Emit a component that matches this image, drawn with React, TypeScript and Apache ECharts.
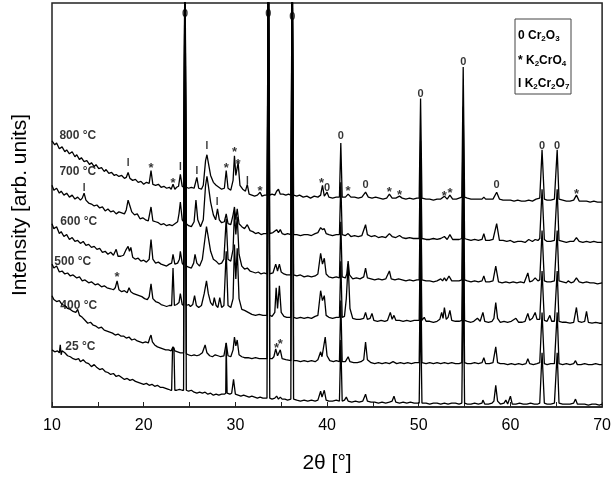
import React, { useEffect, useRef } from "react";
import * as echarts from "echarts";

const FONT = "'Liberation Sans', Arial, sans-serif";

// 2θ [°], intensity [arb. units] — stacked patterns
const c800: [number, number][] = [
  [10.0, 270], [10.3, 266], [10.5, 268], [10.8, 262], [11.1, 264], [11.4, 259], [11.6, 261], [11.9, 257], [12.2, 259], [12.5, 254],
  [12.7, 256], [13.0, 251], [13.2, 253], [13.5, 249], [13.8, 250], [14.1, 246], [14.3, 248], [14.6, 244], [14.8, 246], [15.1, 242],
  [15.4, 243], [15.7, 239], [15.9, 241], [16.2, 237], [16.5, 238], [16.8, 235], [17.0, 236], [17.3, 234], [17.6, 235], [17.9, 232],
  [18.1, 233], [18.3, 238], [18.5, 232], [18.8, 230], [19.1, 231], [19.4, 228], [19.7, 229], [20.0, 226], [20.3, 228], [20.6, 227],
  [20.8, 240], [21.0, 226], [21.3, 225], [21.6, 226], [21.9, 223], [22.2, 224], [22.5, 222], [22.8, 223], [23.0, 221], [23.2, 226],
  [23.4, 221], [23.6, 223], [23.8, 224], [24.0, 236], [24.2, 224], [24.35, 223], [24.5, 463], [24.65, 223], [24.9, 222], [25.2, 223],
  [25.5, 222], [25.8, 233], [26.0, 222], [26.3, 221], [26.5, 225], [26.75, 250], [26.9, 256], [27.05, 248], [27.3, 235], [27.6, 228],
  [27.9, 225], [28.2, 223], [28.5, 221], [28.8, 222], [29.0, 240], [29.2, 222], [29.5, 220], [29.75, 230], [29.9, 255], [30.05, 235],
  [30.3, 248], [30.5, 225], [30.8, 221], [31.1, 219], [31.3, 226], [31.5, 216], [31.8, 215], [32.1, 214], [32.4, 215], [32.7, 218],
  [32.9, 214], [33.2, 215], [33.45, 215], [33.6, 463], [33.75, 215], [34.0, 216], [34.3, 215], [34.5, 219], [34.7, 221], [34.9, 216],
  [35.2, 216], [35.5, 215], [35.8, 216], [36.05, 215], [36.2, 463], [36.35, 215], [36.7, 214], [37.0, 215], [37.4, 213], [37.8, 214],
  [38.2, 212], [38.6, 214], [39.0, 213], [39.3, 215], [39.5, 225], [39.7, 214], [40.0, 218], [40.2, 213], [40.6, 212], [41.0, 213],
  [41.35, 213], [41.5, 268], [41.65, 213], [42.0, 213], [42.3, 216], [42.6, 213], [43.0, 213], [43.4, 212], [43.8, 213], [44.2, 218],
  [44.5, 213], [44.9, 212], [45.3, 213], [45.7, 212], [46.1, 211], [46.5, 212], [46.8, 216], [47.1, 212], [47.5, 212], [47.9, 214],
  [48.2, 212], [48.6, 211], [49.0, 212], [49.4, 211], [49.8, 212], [50.05, 212], [50.2, 313], [50.35, 212], [50.8, 211], [51.2, 211],
  [51.6, 210], [52.0, 211], [52.4, 211], [52.8, 214], [53.1, 211], [53.4, 215], [53.7, 211], [54.1, 211], [54.4, 212], [54.7, 213],
  [54.85, 345], [55.0, 213], [55.3, 212], [55.7, 211], [56.1, 211], [56.5, 211], [56.9, 211], [57.1, 213], [57.3, 211], [57.7, 211],
  [58.1, 211], [58.5, 218], [58.8, 211], [59.2, 210], [59.6, 210], [60.0, 210], [60.4, 209], [60.8, 210], [61.2, 209], [61.6, 209],
  [62.0, 210], [62.4, 209], [62.8, 211], [63.2, 212], [63.45, 261], [63.7, 211], [64.0, 210], [64.4, 210], [64.8, 211], [65.1, 261],
  [65.3, 211], [65.7, 210], [66.1, 209], [66.5, 209], [66.9, 210], [67.2, 215], [67.5, 209], [67.9, 209], [68.3, 209], [68.7, 208],
  [69.1, 209], [69.5, 208], [70.0, 208],
];

const c700: [number, number][] = [
  [10.0, 225], [10.2, 220], [10.5, 222], [10.8, 217], [11.0, 219], [11.3, 215], [11.6, 217], [11.9, 213], [12.2, 215], [12.5, 211],
  [12.8, 213], [13.1, 210], [13.3, 212], [13.5, 217], [13.7, 210], [14.0, 207], [14.3, 206], [14.6, 204], [14.9, 205], [15.2, 202],
  [15.5, 203], [15.8, 199], [16.1, 201], [16.4, 198], [16.7, 199], [17.0, 196], [17.3, 198], [17.6, 197], [17.9, 196], [18.1, 200],
  [18.3, 210], [18.5, 204], [18.7, 198], [19.0, 195], [19.3, 196], [19.6, 191], [19.9, 192], [20.2, 190], [20.5, 189], [20.8, 203],
  [21.0, 189], [21.3, 188], [21.6, 187], [21.9, 185], [22.2, 186], [22.5, 184], [22.8, 185], [23.1, 184], [23.4, 186], [23.7, 188],
  [23.85, 196], [24.0, 208], [24.2, 190], [24.35, 188], [24.5, 463], [24.65, 186], [24.9, 184], [25.2, 183], [25.5, 188], [25.7, 210],
  [25.9, 190], [26.2, 183], [26.5, 190], [26.75, 225], [26.9, 234], [27.05, 225], [27.3, 208], [27.6, 195], [27.85, 190], [28.05, 201],
  [28.25, 190], [28.5, 187], [28.8, 188], [29.0, 196], [29.2, 186], [29.5, 185], [29.75, 195], [29.9, 203], [30.05, 190], [30.2, 201],
  [30.4, 186], [30.7, 183], [31.0, 181], [31.3, 185], [31.6, 179], [31.9, 178], [32.2, 176], [32.5, 177], [32.8, 175], [33.1, 176],
  [33.45, 176], [33.6, 463], [33.75, 176], [34.1, 177], [34.5, 180], [34.7, 177], [34.9, 180], [35.1, 176], [35.4, 175], [35.7, 176],
  [36.05, 175], [36.2, 463], [36.35, 175], [36.7, 175], [37.1, 174], [37.5, 175], [37.9, 175], [38.3, 174], [38.7, 176], [39.0, 177],
  [39.3, 182], [39.5, 180], [39.7, 181], [39.9, 176], [40.2, 175], [40.6, 174], [41.0, 175], [41.35, 175], [41.5, 228], [41.65, 175],
  [42.0, 174], [42.3, 176], [42.6, 173], [43.0, 174], [43.4, 173], [43.8, 174], [44.2, 185], [44.4, 175], [44.8, 173], [45.2, 174],
  [45.6, 172], [46.0, 173], [46.4, 172], [46.8, 176], [47.1, 173], [47.5, 172], [47.9, 174], [48.2, 172], [48.6, 171], [49.0, 172],
  [49.4, 171], [49.8, 171], [50.05, 171], [50.2, 270], [50.35, 171], [50.8, 170], [51.2, 170], [51.6, 171], [52.0, 170], [52.4, 171],
  [52.8, 173], [53.1, 170], [53.4, 175], [53.7, 170], [54.1, 170], [54.4, 170], [54.7, 171], [54.85, 305], [55.0, 171], [55.3, 170],
  [55.7, 169], [56.1, 170], [56.5, 169], [56.9, 170], [57.1, 176], [57.3, 169], [57.7, 169], [58.1, 170], [58.5, 186], [58.8, 169],
  [59.2, 169], [59.6, 168], [60.0, 169], [60.4, 167], [60.8, 168], [61.2, 168], [61.6, 167], [62.0, 170], [62.4, 168], [62.7, 170],
  [63.0, 169], [63.2, 171], [63.45, 221], [63.7, 170], [64.0, 168], [64.4, 168], [64.8, 169], [65.1, 221], [65.3, 169], [65.7, 168],
  [66.1, 167], [66.5, 168], [66.9, 168], [67.2, 172], [67.5, 168], [67.9, 167], [68.3, 168], [68.7, 167], [69.1, 168], [69.5, 167],
  [70.0, 167],
];

const c600: [number, number][] = [
  [10.0, 186], [10.2, 181], [10.5, 183], [10.8, 176], [11.0, 178], [11.3, 173], [11.6, 175], [11.9, 170], [12.2, 172], [12.5, 168],
  [12.8, 169], [13.1, 166], [13.4, 168], [13.7, 164], [14.0, 165], [14.3, 162], [14.6, 163], [14.9, 160], [15.2, 161], [15.5, 157],
  [15.8, 158], [16.1, 155], [16.4, 157], [16.7, 154], [17.0, 160], [17.2, 153], [17.5, 153], [17.8, 154], [18.1, 160], [18.3, 163],
  [18.45, 158], [18.6, 162], [18.8, 152], [19.1, 150], [19.4, 151], [19.7, 148], [20.0, 149], [20.3, 147], [20.6, 150], [20.8, 170],
  [21.0, 150], [21.3, 146], [21.6, 147], [21.9, 145], [22.2, 144], [22.5, 143], [22.8, 145], [23.05, 146], [23.2, 155], [23.4, 145],
  [23.7, 146], [23.9, 150], [24.0, 158], [24.2, 146], [24.35, 144], [24.5, 463], [24.65, 143], [24.9, 142], [25.2, 141], [25.45, 146],
  [25.6, 155], [25.8, 146], [26.1, 143], [26.4, 150], [26.7, 172], [26.85, 183], [27.0, 175], [27.3, 158], [27.6, 150], [27.9, 148],
  [28.2, 145], [28.5, 146], [28.75, 150], [29.0, 191], [29.2, 150], [29.5, 148], [29.75, 160], [29.9, 198], [30.05, 175], [30.2, 193],
  [30.4, 155], [30.7, 143], [31.0, 140], [31.3, 141], [31.6, 138], [31.9, 137], [32.2, 136], [32.5, 137], [32.8, 135], [33.1, 136],
  [33.45, 135], [33.6, 463], [33.75, 135], [34.1, 136], [34.4, 145], [34.6, 138], [34.8, 145], [35.0, 137], [35.3, 135], [35.6, 134],
  [36.05, 134], [36.2, 463], [36.35, 134], [36.7, 133], [37.1, 134], [37.5, 132], [37.9, 133], [38.3, 132], [38.7, 133], [39.0, 135],
  [39.3, 156], [39.5, 145], [39.7, 151], [39.9, 135], [40.2, 132], [40.6, 131], [41.0, 132], [41.35, 131], [41.5, 188], [41.65, 132],
  [42.0, 131], [42.15, 135], [42.3, 148], [42.45, 134], [42.8, 130], [43.2, 131], [43.6, 130], [44.0, 132], [44.2, 141], [44.4, 131],
  [44.8, 130], [45.2, 129], [45.6, 130], [46.0, 129], [46.4, 130], [46.8, 138], [47.0, 130], [47.4, 129], [47.8, 130], [48.2, 129],
  [48.6, 128], [49.0, 129], [49.4, 128], [49.8, 129], [50.05, 129], [50.2, 228], [50.35, 129], [50.8, 128], [51.2, 128], [51.6, 127],
  [52.0, 128], [52.4, 130], [52.6, 128], [52.8, 131], [53.0, 128], [53.3, 133], [53.6, 128], [54.0, 128], [54.4, 128], [54.7, 129],
  [54.85, 263], [55.0, 129], [55.3, 128], [55.7, 127], [56.1, 128], [56.5, 127], [56.9, 128], [57.1, 133], [57.3, 127], [57.7, 127],
  [58.1, 128], [58.4, 143], [58.7, 127], [59.1, 126], [59.5, 127], [59.9, 126], [60.3, 127], [60.7, 126], [61.1, 127], [61.5, 126],
  [61.9, 136], [62.1, 127], [62.4, 128], [62.7, 131], [63.0, 128], [63.2, 129], [63.45, 179], [63.7, 128], [64.0, 127], [64.4, 127],
  [64.8, 128], [65.1, 179], [65.3, 128], [65.7, 127], [66.1, 126], [66.3, 128], [66.6, 126], [66.9, 127], [67.2, 131], [67.5, 127],
  [67.9, 126], [68.3, 127], [68.7, 126], [69.1, 126], [69.5, 125], [70.0, 126],
];

const c500: [number, number][] = [
  [10.0, 145], [10.2, 141], [10.5, 143], [10.8, 137], [11.1, 138], [11.4, 135], [11.7, 136], [12.0, 133], [12.3, 134], [12.7, 131],
  [13.0, 132], [13.3, 128], [13.6, 129], [14.0, 126], [14.3, 127], [14.7, 124], [15.0, 125], [15.4, 122], [15.7, 123], [16.0, 121],
  [16.4, 120], [16.7, 119], [16.9, 121], [17.1, 128], [17.3, 119], [17.6, 117], [17.9, 118], [18.2, 116], [18.4, 121], [18.6, 117],
  [18.9, 115], [19.2, 114], [19.5, 113], [19.8, 112], [20.1, 110], [20.4, 109], [20.6, 112], [20.8, 125], [21.0, 110], [21.3, 107],
  [21.6, 106], [21.9, 104], [22.2, 103], [22.5, 102], [22.8, 103], [23.05, 103], [23.2, 141], [23.35, 103], [23.6, 104], [23.85, 106],
  [24.0, 115], [24.2, 104], [24.35, 103], [24.5, 463], [24.65, 103], [24.9, 104], [25.1, 102], [25.35, 104], [25.55, 113], [25.75, 103],
  [26.0, 101], [26.3, 103], [26.6, 115], [26.85, 128], [27.05, 115], [27.3, 106], [27.55, 103], [27.7, 111], [27.9, 103], [28.1, 101],
  [28.3, 111], [28.5, 101], [28.75, 103], [29.0, 158], [29.2, 103], [29.5, 101], [29.75, 110], [29.9, 165], [30.05, 130], [30.2, 161],
  [30.4, 110], [30.7, 99], [31.0, 98], [31.4, 96], [31.8, 94], [32.2, 93], [32.6, 94], [33.0, 93], [33.45, 93], [33.6, 463],
  [33.75, 93], [34.0, 92], [34.3, 96], [34.45, 121], [34.6, 100], [34.8, 123], [35.0, 96], [35.3, 92], [35.6, 91], [36.05, 91],
  [36.2, 463], [36.35, 91], [36.7, 90], [37.1, 91], [37.5, 90], [37.9, 91], [38.3, 90], [38.7, 92], [39.0, 93], [39.3, 118],
  [39.5, 108], [39.7, 113], [39.9, 93], [40.2, 91], [40.6, 90], [41.0, 91], [41.35, 91], [41.5, 148], [41.65, 91], [41.9, 92],
  [42.1, 110], [42.3, 145], [42.5, 100], [42.8, 90], [43.2, 89], [43.6, 89], [44.0, 90], [44.2, 96], [44.4, 89], [44.7, 90],
  [44.9, 95], [45.1, 88], [45.5, 87], [45.9, 88], [46.3, 87], [46.6, 88], [46.9, 96], [47.1, 89], [47.3, 93], [47.5, 88],
  [47.9, 88], [48.3, 87], [48.7, 88], [49.1, 87], [49.5, 88], [49.8, 88], [50.05, 88], [50.2, 188], [50.35, 88], [50.6, 91],
  [50.8, 87], [51.2, 87], [51.6, 86], [52.0, 87], [52.3, 89], [52.5, 96], [52.65, 90], [52.8, 101], [53.0, 89], [53.2, 91],
  [53.4, 98], [53.6, 88], [54.0, 87], [54.4, 87], [54.7, 88], [54.85, 223], [55.0, 88], [55.3, 87], [55.7, 86], [56.0, 87],
  [56.4, 90], [56.7, 87], [57.0, 96], [57.2, 87], [57.6, 86], [58.0, 87], [58.2, 90], [58.4, 106], [58.6, 90], [58.9, 86],
  [59.3, 87], [59.7, 86], [60.1, 87], [60.6, 90], [60.9, 86], [61.3, 86], [61.6, 87], [61.9, 95], [62.1, 88], [62.4, 90],
  [62.7, 96], [62.9, 89], [63.2, 89], [63.45, 138], [63.7, 88], [64.0, 87], [64.3, 93], [64.5, 87], [64.8, 87], [65.1, 138],
  [65.3, 87], [65.7, 86], [66.1, 86], [66.5, 85], [66.9, 86], [67.2, 101], [67.4, 87], [67.8, 86], [68.1, 87], [68.3, 97],
  [68.5, 86], [68.9, 85], [69.3, 86], [69.7, 85], [70.0, 85],
];

const c400: [number, number][] = [
  [10.0, 113], [10.2, 109], [10.5, 107], [10.8, 108], [11.1, 104], [11.4, 103], [11.7, 100], [12.0, 99], [12.3, 97], [12.6, 96],
  [12.8, 99], [13.0, 93], [13.3, 91], [13.6, 88], [13.9, 85], [14.2, 86], [14.5, 83], [14.8, 82], [15.1, 80], [15.4, 81],
  [15.7, 78], [16.0, 77], [16.3, 76], [16.6, 75], [16.9, 73], [17.2, 74], [17.5, 72], [17.8, 72], [18.1, 70], [18.4, 71],
  [18.7, 68], [19.0, 69], [19.3, 67], [19.6, 66], [19.9, 65], [20.2, 66], [20.5, 65], [20.7, 71], [20.8, 73], [20.95, 66],
  [21.2, 63], [21.5, 61], [21.8, 60], [22.1, 59], [22.4, 58], [22.7, 58], [23.0, 57], [23.2, 61], [23.4, 57], [23.7, 56],
  [24.0, 55], [24.35, 55], [24.5, 463], [24.65, 54], [24.9, 53], [25.2, 52], [25.5, 53], [25.8, 52], [26.1, 53], [26.4, 55],
  [26.7, 63], [26.9, 55], [27.2, 52], [27.5, 51], [27.8, 53], [28.1, 52], [28.4, 51], [28.75, 52], [29.0, 65], [29.2, 52],
  [29.5, 51], [29.75, 58], [29.9, 71], [30.05, 62], [30.2, 68], [30.4, 53], [30.7, 51], [31.0, 50], [31.4, 50], [31.8, 49],
  [32.2, 50], [32.6, 49], [33.0, 49], [33.45, 49], [33.6, 463], [33.75, 49], [34.0, 49], [34.2, 51], [34.4, 59], [34.6, 52],
  [34.9, 58], [35.1, 49], [35.5, 48], [36.05, 47], [36.2, 463], [36.35, 47], [36.7, 47], [37.1, 46], [37.5, 47], [37.9, 46],
  [38.3, 47], [38.7, 46], [39.0, 48], [39.3, 56], [39.45, 51], [39.8, 71], [40.0, 52], [40.3, 47], [40.7, 46], [41.0, 47],
  [41.35, 46], [41.5, 108], [41.65, 46], [42.0, 46], [42.3, 51], [42.5, 46], [42.9, 45], [43.3, 45], [43.7, 46], [44.0, 48],
  [44.2, 66], [44.4, 48], [44.8, 45], [45.2, 44], [45.6, 45], [46.0, 44], [46.4, 45], [46.8, 44], [47.2, 46], [47.6, 44],
  [48.0, 45], [48.4, 44], [48.8, 45], [49.2, 44], [49.6, 45], [50.05, 45], [50.2, 145], [50.35, 45], [50.8, 44], [51.2, 45],
  [51.6, 44], [52.0, 45], [52.4, 44], [52.8, 45], [53.2, 44], [53.6, 45], [54.0, 44], [54.4, 44], [54.7, 45], [54.85, 180],
  [55.0, 45], [55.3, 44], [55.7, 44], [56.1, 45], [56.5, 44], [56.9, 45], [57.1, 50], [57.3, 44], [57.7, 44], [58.1, 45],
  [58.4, 61], [58.6, 45], [58.9, 44], [59.3, 44], [59.7, 43], [60.1, 44], [60.5, 43], [60.9, 44], [61.3, 43], [61.7, 44],
  [61.9, 49], [62.1, 44], [62.5, 43], [62.9, 44], [63.2, 45], [63.45, 96], [63.7, 44], [64.0, 43], [64.4, 44], [64.8, 44],
  [65.1, 96], [65.3, 44], [65.7, 43], [66.1, 44], [66.5, 43], [66.9, 44], [67.1, 47], [67.3, 43], [67.7, 43], [68.1, 44],
  [68.5, 43], [68.9, 43], [69.3, 44], [69.7, 43], [70.0, 43],
];

const c25: [number, number][] = [
  [10.0, 58], [10.3, 56], [10.6, 57], [10.8, 55], [10.9, 63], [11.0, 53], [11.1, 57], [11.4, 55], [11.7, 52], [12.0, 51],
  [12.3, 49], [12.6, 48], [12.9, 49], [13.1, 46], [13.4, 48], [13.7, 45], [14.0, 44], [14.3, 41], [14.6, 43], [14.9, 40],
  [15.2, 38], [15.5, 39], [15.8, 36], [16.1, 35], [16.4, 33], [16.7, 34], [17.0, 31], [17.3, 32], [17.6, 30], [17.9, 28],
  [18.2, 29], [18.5, 27], [18.8, 28], [19.1, 26], [19.4, 25], [19.7, 24], [20.0, 23], [20.3, 24], [20.6, 22], [20.9, 23],
  [21.2, 21], [21.5, 22], [21.8, 20], [22.1, 20], [22.4, 19], [22.7, 18], [22.95, 17], [23.05, 17], [23.15, 60], [23.3, 60],
  [23.4, 17], [23.6, 17], [23.9, 18], [24.2, 17], [24.35, 17], [24.5, 463], [24.65, 17], [24.9, 16], [25.2, 17], [25.5, 15],
  [25.8, 14], [26.1, 15], [26.4, 14], [26.7, 15], [27.0, 13], [27.3, 14], [27.6, 12], [27.9, 13], [28.2, 12], [28.5, 13],
  [28.8, 13], [28.95, 14], [29.0, 65], [29.1, 14], [29.4, 13], [29.6, 14], [29.8, 28], [30.0, 13], [30.3, 12], [30.6, 11],
  [30.9, 12], [31.2, 11], [31.5, 10], [31.8, 11], [32.1, 10], [32.4, 9], [32.7, 10], [33.0, 9], [33.45, 9], [33.6, 463],
  [33.75, 9], [34.0, 8], [34.3, 9], [34.5, 11], [34.7, 8], [34.9, 10], [35.1, 8], [35.4, 8], [35.7, 7], [36.05, 8],
  [36.2, 463], [36.35, 8], [36.7, 7], [37.1, 6], [37.5, 7], [37.9, 6], [38.3, 7], [38.7, 6], [39.0, 7], [39.3, 16],
  [39.45, 10], [39.7, 17], [39.9, 7], [40.2, 6], [40.6, 6], [41.0, 7], [41.35, 6], [41.5, 68], [41.65, 6], [41.9, 7],
  [42.1, 10], [42.3, 6], [42.7, 5], [43.1, 6], [43.5, 5], [43.9, 6], [44.2, 13], [44.4, 6], [44.8, 5], [45.2, 5],
  [45.6, 4], [46.0, 5], [46.4, 4], [46.8, 5], [47.1, 6], [47.3, 11], [47.5, 5], [47.9, 4], [48.3, 5], [48.7, 4],
  [49.1, 5], [49.5, 4], [50.05, 4], [50.2, 103], [50.35, 4], [50.8, 4], [51.2, 3], [51.6, 4], [52.0, 4], [52.4, 3],
  [52.8, 4], [53.2, 3], [53.6, 4], [54.0, 4], [54.4, 3], [54.7, 4], [54.85, 138], [55.0, 4], [55.3, 3], [55.7, 3],
  [56.1, 4], [56.5, 3], [56.9, 4], [57.0, 7], [57.2, 3], [57.6, 3], [58.0, 4], [58.2, 6], [58.4, 22], [58.6, 6],
  [58.9, 3], [59.3, 4], [59.5, 7], [59.7, 3], [60.0, 11], [60.2, 3], [60.6, 3], [61.0, 4], [61.4, 3], [61.8, 3],
  [62.2, 4], [62.6, 3], [63.0, 3], [63.2, 4], [63.45, 55], [63.7, 4], [64.0, 3], [64.4, 3], [64.8, 4], [65.1, 55],
  [65.3, 4], [65.7, 3], [66.1, 3], [66.5, 3], [66.9, 4], [67.1, 8], [67.3, 3], [67.7, 3], [68.1, 3], [68.5, 2],
  [68.9, 3], [69.3, 3], [69.7, 2], [70.0, 3],
];

const seriesNames = ["25 °C", "400 °C", "500 °C", "600 °C", "700 °C", "800 °C"];
const curves = [c25, c400, c500, c600, c700, c800];
// where each temperature label sits [2θ, intensity]
const labelAnchors: [number, number][] = [
  [11.4, 62], [10.85, 104], [10.2, 148], [10.85, 189], [10.75, 239], [10.75, 276],
];

// phase markers [2θ, intensity]
const cr2o3Marks: [number, number][] = [
  [24.5, 400], [33.6, 400], [36.2, 397], [41.5, 276], [50.2, 319], [54.85, 351], [63.45, 266], [65.1, 266],
  [40.0, 223], [44.2, 226], [58.5, 226],
];
const k2cro4Marks: [number, number][] = [
  [20.8, 246], [23.2, 231], [29.0, 246], [29.9, 262], [30.3, 250], [32.7, 223], [39.4, 231], [42.3, 223],
  [46.8, 222], [47.9, 219], [52.8, 218], [53.4, 221], [67.2, 220], [17.1, 135], [34.5, 63], [34.9, 67],
];
const k2cr2o7Marks: [number, number][] = [
  [18.3, 248], [24.0, 244], [25.8, 240], [26.9, 265], [31.3, 230], [13.5, 223], [28.0, 209],
];

const markerSeries = (data: [number, number][], ch: string, size: number, dy: number) => ({
  type: "scatter",
  data,
  symbolSize: 1,
  silent: true,
  z: 5,
  itemStyle: { color: "rgba(0,0,0,0)" },
  label: {
    show: true,
    position: "inside",
    formatter: ch,
    offset: [0, dy],
    color: "#000",
    fontSize: size,
    fontWeight: "bold",
    fontFamily: FONT,
  },
});

const legendRich = {
  s: { fontSize: 8, fontWeight: "bold", fontFamily: FONT, verticalAlign: "bottom", lineHeight: 8, fill: "#000" },
};

export default function App() {
  const ref = useRef<HTMLDivElement>(null);
  useEffect(() => {
    const chart = echarts.init(ref.current!, undefined, { renderer: "svg" });
    chart.setOption({
      animation: false,
      grid: { left: 45, right: 11, top: 3, bottom: 64, show: true, borderColor: "#222", borderWidth: 1.5, backgroundColor: "#fff" },
      xAxis: {
        type: "value",
        min: 10,
        max: 70,
        interval: 5,
        name: "2θ [°]",
        nameLocation: "middle",
        nameGap: 44,
        nameTextStyle: { fontSize: 21, fontFamily: FONT, color: "#000" },
        axisLine: { show: true, lineStyle: { color: "#222", width: 1.5 } },
        axisTick: { show: true, inside: true, length: 5, lineStyle: { color: "#222", width: 1 } },
        axisLabel: {
          fontSize: 16,
          fontFamily: FONT,
          color: "#000",
          margin: 9,
          formatter: (v: number) => (v % 10 === 0 ? String(v) : ""),
        },
        splitLine: { show: false },
      },
      yAxis: {
        type: "value",
        min: 0,
        max: 410,
        name: "Intensity [arb. units]",
        nameLocation: "middle",
        nameGap: 23,
        nameRotate: 90,
        nameTextStyle: { fontSize: 21, fontFamily: FONT, color: "#000" },
        axisLine: { show: false },
        axisTick: { show: false },
        axisLabel: { show: false },
        splitLine: { show: false },
      },
      series: [
        ...curves.map((d, i) => ({
          type: "line",
          name: seriesNames[i],
          data: d,
          symbol: "none",
          showSymbol: false,
          silent: true,
          clip: true,
          lineStyle: { color: "#000", width: 1.3 },
          itemStyle: { color: "#000" },
        })),
        {
          type: "scatter",
          data: labelAnchors.map((p, i) => ({ value: p, name: seriesNames[i] })),
          symbolSize: 1,
          silent: true,
          z: 5,
          itemStyle: { color: "rgba(0,0,0,0)" },
          label: {
            show: true,
            position: "right",
            distance: 0,
            formatter: "{b}",
            color: "#000",
            fontSize: 12,
            fontWeight: "bold",
            fontFamily: FONT,
          },
        },
        markerSeries(cr2o3Marks, "0", 11, 0),
        markerSeries(k2cro4Marks, "*", 13, 3),
        markerSeries(k2cr2o7Marks, "I", 10, 0),
      ],
      graphic: [
        {
          type: "rect",
          shape: { x: 515, y: 19, width: 56, height: 75 },
          style: { fill: "#fff", stroke: "#444", lineWidth: 1 },
          z: 10,
        },
        ...[
          ["0 Cr{s|2}O{s|3}", 35],
          ["* K{s|2}CrO{s|4}", 60],
          ["I K{s|2}Cr{s|2}O{s|7}", 83],
        ].map(([t, y]) => ({
          type: "text",
          z: 11,
          style: {
            x: 518,
            y: y as number,
            text: t as string,
            fontSize: 12,
            fontWeight: "bold",
            fontFamily: FONT,
            fill: "#000",
            verticalAlign: "middle",
            lineHeight: 14,
            rich: legendRich,
          },
        })),
      ],
    });
    return () => chart.dispose();
  }, []);
  return <div ref={ref} style={{ position: "fixed", left: 0, top: 0, width: 614, height: 477 }} />;
}
